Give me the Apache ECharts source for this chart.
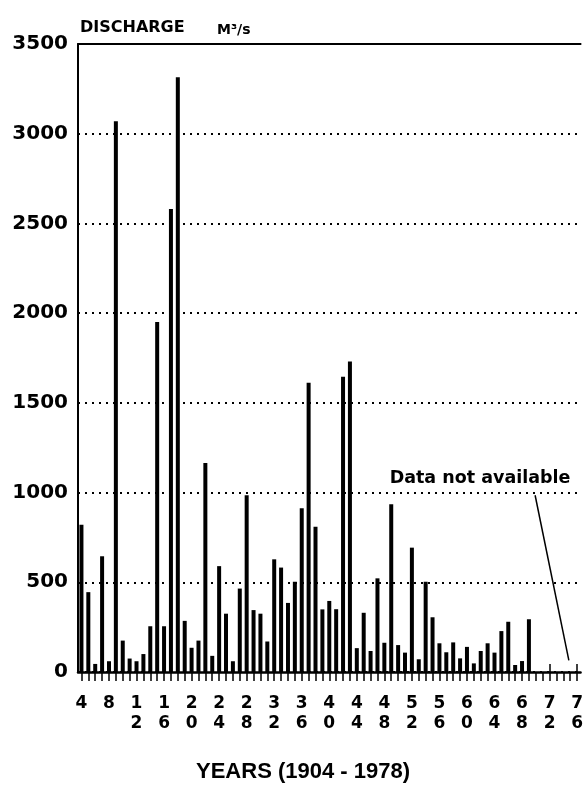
<!DOCTYPE html>
<html>
<head>
<meta charset="utf-8">
<script src="https://cdn.jsdelivr.net/npm/echarts@6/dist/echarts.min.js"></script>
<style>
html,body{margin:0;padding:0;background:#fff;}
#chart{width:586px;height:792px;}
</style>
</head>
<body>
<div id="chart"></div>
<script>
// Years shown on the axis (the picture is cut off after 1976)
const years = [];
for (let y = 1904; y <= 1976; y++) years.push(String(y));

// Annual peak discharge, m3/s (1904-1969); later years not available
const discharge = [
  820, 445, 45, 645, 60, 3070, 175, 75, 60, 100,      // 1904-1913
  255, 1950, 255, 2580, 3315, 285, 135, 175, 1165, 90, // 1914-1923
  590, 325, 60, 465, 985, 345, 325, 170, 628, 582,     // 1924-1933
  385, 503, 912, 1612, 810, 349, 396, 350, 1645, 1730, // 1934-1943
  133, 330, 117, 522, 163, 935, 150, 108, 693, 71,     // 1944-1953
  503, 305, 160, 110, 165, 76, 140, 48, 117, 160,      // 1954-1963
  108, 228, 280, 39, 61, 294,                          // 1964-1969
  null, null, null, null, null, null, null             // 1970-1976
];

const yTicks = [0, 500, 1000, 1500, 2000, 2500, 3000, 3500];
const yTitle = 'DISCHARGE';
const yUnit = 'M³/s';
const xTitle = 'YEARS (1904 - 1978)';
const noteText = 'Data not available';
// annotation anchor points in data terms: [year, discharge]
const noteTextAt = [1961.9, 1080];
const noteLine = [[1969.9, 985], [1974.8, 65]];

const FONT = 'DejaVu Sans';
const chart = echarts.init(document.getElementById('chart'), null, {renderer: 'canvas'});

const option = {
  backgroundColor: '#fff',
  animation: false,
  grid: {
    left: 78, top: 44, right: 2, height: 628,
    show: false
  },
  xAxis: [{
    type: 'category',
    data: years,
    position: 'bottom',
    boundaryGap: true,
    axisLine: {show: true, lineStyle: {color: '#000', width: 2.5}},
    axisTick: {show: true, alignWithLabel: true, interval: 0, length: 9, lineStyle: {color: '#000', width: 1.5}},
    axisLabel: {
      interval: 3,
      margin: 22,
      color: '#000',
      fontFamily: FONT,
      fontWeight: 'bold',
      fontSize: 17,
      lineHeight: 20,
      formatter: function (v) {
        const s = String(Number(v) % 100);
        return s.split('').join('\n');
      }
    },
    splitLine: {show: false}
  }, {
    type: 'category',
    data: years,
    position: 'bottom',
    boundaryGap: true,
    axisLine: {show: false},
    axisTick: {show: true, inside: true, alignWithLabel: true, interval: 3, length: 8, lineStyle: {color: '#000', width: 1.5}},
    axisLabel: {show: false},
    splitLine: {show: false}
  }, {
    type: 'category',
    data: years,
    position: 'top',
    boundaryGap: true,
    axisLine: {show: true, lineStyle: {color: '#000', width: 2}},
    axisTick: {show: false},
    axisLabel: {show: false},
    splitLine: {show: false}
  }],
  yAxis: {
    type: 'value',
    min: yTicks[0],
    max: yTicks[yTicks.length - 1],
    interval: 500,
    axisLine: {show: true, lineStyle: {color: '#000', width: 2}},
    axisTick: {show: false},
    axisLabel: {
      margin: 10,
      color: '#000',
      fontFamily: FONT,
      fontWeight: 'bold',
      fontSize: 20,
      formatter: function (v) { return String(v); }
    },
    splitLine: {show: true, lineStyle: {color: '#000', width: 2, type: [2, 5]}}
  },
  series: [{
    type: 'bar',
    xAxisIndex: 0,
    data: discharge,
    barWidth: 4,
    itemStyle: {color: '#000'},
    z: 3
  }]
};
chart.setOption(option);

function xPix(year) {
  const p0 = chart.convertToPixel({xAxisIndex: 0}, years[0]);
  const p1 = chart.convertToPixel({xAxisIndex: 0}, years[1]);
  return p0 + (year - 1904) * (p1 - p0);
}
function yPix(v) {
  return chart.convertToPixel({yAxisIndex: 0}, v);
}

chart.setOption({
  graphic: [
    {
      type: 'text', left: 80, top: 20,
      style: {text: yTitle, fill: '#000', font: 'bold 16px "DejaVu Sans"'}
    },
    {
      type: 'text', left: 217, top: 23,
      style: {text: yUnit, fill: '#000', font: 'bold 14px "DejaVu Sans"'}
    },
    {
      type: 'text', x: 303, y: 772,
      style: {text: xTitle, fill: '#000', font: 'bold 22px "Liberation Sans"', textAlign: 'center', textVerticalAlign: 'middle'}
    },
    {
      type: 'text', x: xPix(noteTextAt[0]), y: yPix(noteTextAt[1]),
      style: {text: noteText, fill: '#000', font: 'bold 17.5px "DejaVu Sans"', textAlign: 'center', textVerticalAlign: 'middle'},
      z: 10
    },
    {
      type: 'line',
      shape: {
        x1: xPix(noteLine[0][0]), y1: yPix(noteLine[0][1]),
        x2: xPix(noteLine[1][0]), y2: yPix(noteLine[1][1])
      },
      style: {stroke: '#000', lineWidth: 1.5},
      z: 10
    }
  ]
});
</script>
</body>
</html>
